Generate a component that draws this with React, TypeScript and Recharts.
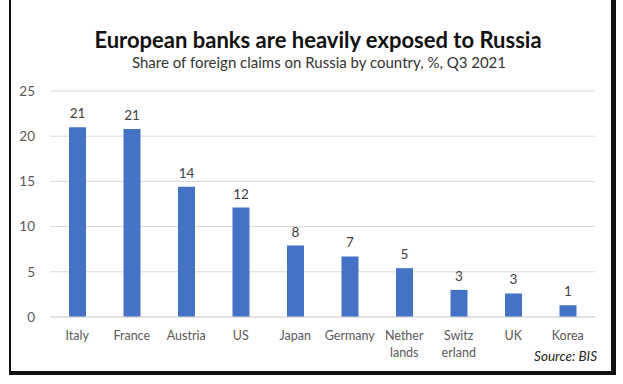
import { Bar, BarChart, CartesianGrid, LabelList, XAxis, YAxis } from "recharts";

const countries = [
  "Italy",
  "France",
  "Austria",
  "US",
  "Japan",
  "Germany",
  "Nether\nlands",
  "Switz\nerland",
  "UK",
  "Korea",
];
const shares = [21.0, 20.8, 14.4, 12.1, 7.9, 6.7, 5.4, 3.0, 2.6, 1.3];
const yTicks = [0, 5, 10, 15, 20, 25];

const data = countries.map((c, i) => ({ country: c, share: shares[i] }));

const FONT = "Lato, 'Noto Sans', sans-serif";

function CountryTick({ x, y, payload }: { x?: number; y?: number; payload?: { value: string } }) {
  const lines = String(payload?.value ?? "").split("\n");
  return (
    <text x={x} y={(y ?? 0) + 21} textAnchor="middle" fill="#595959" fontSize={12.5} fontFamily={FONT}>
      {lines.map((l, i) => (
        <tspan key={i} x={x} dy={i === 0 ? 0 : 17}>
          {l}
        </tspan>
      ))}
    </text>
  );
}

export default function App() {
  return (
    <div
      style={{
        position: "fixed",
        left: 0,
        top: 0,
        width: 623,
        height: 384,
        background: "#fff",
        fontFamily: FONT,
        overflow: "hidden",
      }}
    >
      <BarChart width={623} height={384} data={data} margin={{ top: 91, right: 28, left: 10, bottom: 27 }}>
        <CartesianGrid vertical={false} stroke="#d9d9d9" />
        <XAxis
          dataKey="country"
          interval={0}
          tickLine={false}
          axisLine={{ stroke: "#d9d9d9" }}
          tickSize={0}
          height={40}
          tick={<CountryTick />}
        />
        <YAxis
          domain={[0, 25]}
          ticks={yTicks}
          width={40}
          axisLine={false}
          tickLine={false}
          tickSize={0}
          tickMargin={15}
          tick={{ fill: "#595959", fontSize: 13.5, fontFamily: FONT }}
        />
        <Bar dataKey="share" fill="#4472C4" barSize={17} isAnimationActive={false}>
          <LabelList
            dataKey="share"
            position="top"
            offset={9}
            formatter={(v: number) => Math.round(v)}
            style={{ fill: "#404040", fontSize: 13.5, fontFamily: FONT }}
          />
        </Bar>
      </BarChart>
      <div
        style={{
          position: "absolute",
          left: 0,
          width: 636,
          top: 26,
          textAlign: "center",
          fontSize: 22,
          fontWeight: 700,
          color: "#111",
          lineHeight: "28px",
        }}
      >
        European banks are heavily exposed to Russia
      </div>
      <div
        style={{
          position: "absolute",
          left: 0,
          width: 638,
          top: 53,
          textAlign: "center",
          fontSize: 15,
          color: "#333",
          lineHeight: "18px",
        }}
      >
        Share of foreign claims on Russia by country, %, Q3 2021
      </div>
      <div
        style={{
          position: "absolute",
          right: 26,
          top: 347,
          fontSize: 13.5,
          fontStyle: "italic",
          color: "#222",
          lineHeight: "18px",
        }}
      >
        Source: BIS
      </div>
      <div style={{ position: "absolute", left: 9, top: 0, width: 2, height: 375, background: "#111" }} />
      <div style={{ position: "absolute", left: 611, top: 0, width: 5, height: 375, background: "#111" }} />
      <div style={{ position: "absolute", left: 9, top: 371, width: 607, height: 4, background: "#111" }} />
    </div>
  );
}
